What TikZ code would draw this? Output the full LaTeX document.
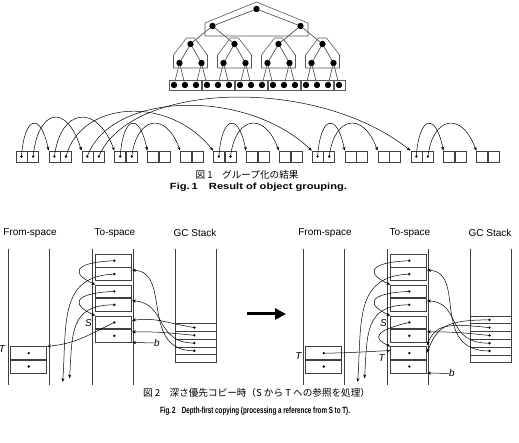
\documentclass[tikz,border=0pt]{standalone}
\usepackage{fontspec}
\setmainfont{Liberation Sans}
\newfontfamily\jpfont{Noto Sans CJK JP}
\usetikzlibrary{arrows.meta, positioning, calc}

\begin{document}
\begin{tikzpicture}[x=1pt, y=-1pt,
    treedot/.style={circle, fill=black, inner sep=0pt, minimum size=6.4pt},
    treeline/.style={draw=black!75, line width=0.6pt},
    grp/.style={draw=black!65, line width=0.6pt},
    cellbox/.style={rectangle, draw=black!75, line width=0.6pt, minimum width=11pt, minimum height=11pt, inner sep=0pt},
    objcell/.style={rectangle, draw=black!75, line width=0.6pt, minimum width=36pt, minimum height=12.8pt, inner sep=0pt},
    stackrow/.style={rectangle, draw=black!75, line width=0.6pt, minimum width=41pt, minimum height=7.8pt, inner sep=0pt},
    col/.style={draw=black!75, line width=0.6pt},
    ptr/.style={-{Stealth[length=4pt, width=3pt]}, line width=0.5pt},
    lbl/.style={font=\fontsize{10}{12}\selectfont, inner sep=0pt},
    var/.style={font=\fontsize{10}{12}\selectfont\itshape, inner sep=0pt},
    captext/.style={font=\jpfont\fontsize{9.6}{12}\selectfont, inner sep=0pt},
    captexten/.style={font=\bfseries, inner sep=0pt}
  ]
  \useasboundingbox (0,0) rectangle (519,443);

  % ---- Fig.1 : tree and its groups ----
  \node[treedot] (n0-0) at (256.5,9) {};
  \foreach \i in {0,1} \node[treedot] (n1-\i) at ({212.5+88*\i},26) {};
  \foreach \i in {0,...,3} \node[treedot] (n2-\i) at ({190.5+44*\i},44) {};
  \foreach \i in {0,...,7} \node[treedot] (n3-\i) at ({179.5+22*\i},63) {};
  \foreach \i in {0,...,15} \node[treedot] (n4-\i) at ({174+11*\i},85) {};

  \foreach \i in {0,1} \draw[treeline] (n0-0) -- (n1-\i);
  \foreach \i in {0,...,3} {
    \pgfmathtruncatemacro\up{div(\i,2)}
    \draw[treeline] (n1-\up) -- (n2-\i);
  }
  \foreach \i in {0,...,7} {
    \pgfmathtruncatemacro\up{div(\i,2)}
    \draw[treeline] (n2-\up) -- (n3-\i);
  }
  \foreach \i in {0,...,15} {
    \pgfmathtruncatemacro\up{div(\i,2)}
    \draw[treeline] (n3-\up) -- (n4-\i);
  }

  \draw[grp] (205,36) -- (205,23) -- (256.5,2) -- (308,23) -- (308,36) -- cycle;
  \foreach \i in {0,...,3}
    \draw[grp] ({190.5+44*\i-17},68) -- ++(0,-13) -- ++(13,-17) -- ++(8,0) -- ++(13,17) -- ++(0,13) -- cycle;
  \foreach \a/\b in {169/201, 202/234, 235/267, 268/300, 301/333, 334/345}
    \draw[grp] (\a,80.5) rectangle (\b,90.5);

  % ---- Fig.1 : memory layout ----
  \foreach \k in {0,...,14} {
    \node[cellbox] (p\k-a) at ({21.5+32.9*\k},156.5) {};
    \node[cellbox, right=0pt of p\k-a] (p\k-b) {};
  }
  \foreach \k in {0,1,2,3,6,9,12} {
    \fill (p\k-a) circle (1.3);
    \fill (p\k-b) circle (1.3);
  }
  \foreach \k/\s/\o/\t/\h in {0/a/0/1/40, 0/b/11/2/48, 1/a/0/3/48, 1/b/11/6/56, 2/a/0/9/64, 2/b/11/12/75,
                          3/a/0/4/40, 3/b/11/5/40, 6/a/0/7/40, 6/b/11/8/40,
                          9/a/0/10/40, 9/b/11/11/40, 12/a/0/13/40, 12/b/11/14/40} {
    \pgfmathsetmacro\sp{16+32.9*\t-21.5-32.9*\k-\o}
    \draw[ptr] (p\k-\s.center) .. controls +({0.1*\sp},-\h) and +({-0.3*\sp},-\h) .. (p\t-a.north west);
  }

  \node[captext] (cap1) at (247,175) {図 1\quad グループ化の結果};
  \node[captexten] (cap1en) at (258.5,187) {\resizebox{177pt}{6.5pt}{Fig.\,1\quad Result of object grouping.}};

  % ---- Fig.2 : both panels ----
  \foreach \p/\dx in {L/0, R/295} {
    \begin{scope}[xshift=\dx]
      \node[lbl] (\p-fromlab) at (30,233) {From-space};
      \node[lbl] (\p-tolab) at (115,233) {To-space};
      \node[lbl] (\p-gclab) at (195,233) {GC Stack};
      \draw[col] (8,249) -- (8,385);
      \draw[col] (49,249) -- (49,385);
      \draw[col] (92.5,249) -- (92.5,385);
      \draw[col] (133.5,249) -- (133.5,385);
      \draw[col] (175,249) -- (175,362.5);
      \draw[col] (216,249) -- (216,362.5);
      \foreach \j/\y in {1/254.3, 2/285, 3/316} {
        \node[objcell] (\p-o\j a) at (113.7,{\y+6.4}) {};
        \node[objcell, below=0pt of \p-o\j a] (\p-o\j b) {};
        \fill ($(\p-o\j a)+(0.6,0)$) circle (1.3);
        \fill ($(\p-o\j b)+(0.6,0)$) circle (1.3);
      }
      \node[objcell, minimum width=36pt] (\p-fa) at (28.7,353.1) {};
      \node[objcell, minimum width=36pt, below=0pt of \p-fa] (\p-fb) {};
      \fill (\p-fa) circle (1.3);
      \fill (\p-fb) circle (1.3);
      \node[var] (\p-slab) at (88.5,323.5) {S};
      \coordinate (\p-end1) at (62.7,382);
      \coordinate (\p-end2) at (69.5,378.5);
      \draw[ptr] ($(\p-o1a)+(0.6,0)$) .. controls +(-45,2) and +(-22,-10) .. (\p-o2a.north west);
      \draw[ptr] ($(\p-o2a)+(0.6,0)$) .. controls +(-45,2) and +(-22,-10) .. (\p-o3a.north west);
      \draw[ptr] ($(\p-o1b)+(0.6,0)$) .. controls +(-55,2) and +(4,-60) .. (\p-end1);
      \draw[ptr] ($(\p-o2b)+(0.6,0)$) .. controls +(-45,0) and +(3,-45) .. (\p-end2);
    \end{scope}
  }

  % left panel
  \node[var] (L-tlab) at (2,349) {T};
  \draw[ptr] ($(L-o3a)+(0.6,0)$) .. controls +(-25,12) and +(30,-3) .. (L-fa.north east);
  \foreach \i in {1,...,5} \node[stackrow] (L-s\i) at (195.5,{323.7+7.75*(\i-0.5)}) {};
  \foreach \i in {1,...,4} \coordinate (L-d\i) at ($(L-s\i)+(-1.2,0)$);
  \foreach \i in {1,...,4} \fill (L-d\i) circle (1.3);
  \draw[ptr] (L-d1) .. controls +(-30,-5) and +(25,-3) .. ($(L-o3a.east)+(0,-2)$);
  \draw[ptr] (L-d2) .. controls +(-30,-3) and +(25,0) .. ($(L-o3b.east)+(0,-4)$);
  \draw[ptr] (L-d3) .. controls +(-40,0) and +(35,2) .. ($(L-o2b.east)+(0,-4)$);
  \draw[ptr] (L-d4) .. controls +(-55,0) and +(40,2) .. ($(L-o1b.east)+(0,-4)$);
  \node[var] (L-blab) at (157,343) {b};
  \draw[ptr] (L-blab) -- (L-o3b.south east);

  % arrow between panels
  \coordinate (mid1) at (247,314);
  \coordinate (mid2) at (286,314);
  \draw[-{Triangle[length=11pt, width=11pt]}, line width=3pt] (mid1) -- (mid2);

  % right panel
  \node[objcell] (R-o4a) at (408.7,353.1) {};
  \node[objcell, below=0pt of R-o4a] (R-o4b) {};
  \fill ($(R-o4a)+(0.6,0)$) circle (1.3);
  \fill ($(R-o4b)+(0.6,0)$) circle (1.3);
  \node[var] (R-tlab) at (298.5,356) {T};
  \node[var] (R-t2lab) at (381.7,358.3) {T};
  \draw[ptr] ($(R-o3a)+(0.6,0)$) .. controls +(-35,8) and +(-18,-8) .. (R-o4a.north west);
  \draw[ptr] (R-fa.center) .. controls +(25,0) and +(-25,1) .. ($(R-o4a.west)+(0,-2.5)$);
  \foreach \i in {1,...,6} \node[stackrow] (R-s\i) at (490.5,{316+7.78*(\i-0.5)}) {};
  \foreach \i in {1,...,5} \coordinate (R-d\i) at ($(R-s\i)+(-1,0)$);
  \foreach \i in {1,...,5} \fill (R-d\i) circle (1.3);
  \draw[ptr] (R-d1) .. controls +(-45,0) and +(10,-25) .. ($(R-o4a.east)+(0,-0.5)$);
  \draw[ptr] (R-d2) .. controls +(-45,-5) and +(8,-20) .. ($(R-o4a.north east)+(0,-1)$);
  \draw[ptr] (R-d3) .. controls +(-30,-3) and +(25,0) .. ($(R-o3b.east)+(0,-4)$);
  \draw[ptr] (R-d4) .. controls +(-45,0) and +(35,2) .. ($(R-o2b.east)+(0,-4)$);
  \draw[ptr] (R-d5) .. controls +(-60,0) and +(40,2) .. ($(R-o1b.east)+(0,-4)$);
  \node[var] (R-blab) at (452,373.3) {b};
  \draw[ptr] (R-blab) -- (R-o4b.south east);

  \node[captext] (cap2) at (256.5,393) {図 2\quad 深さ優先コピー時（S から T への参照を処理）};
  \node[captexten] (cap2en) at (255,411) {\resizebox{190pt}{6.5pt}{Fig.\,2\quad Depth-first copying (processing a reference from S to T).}};
\end{tikzpicture}
\end{document}
